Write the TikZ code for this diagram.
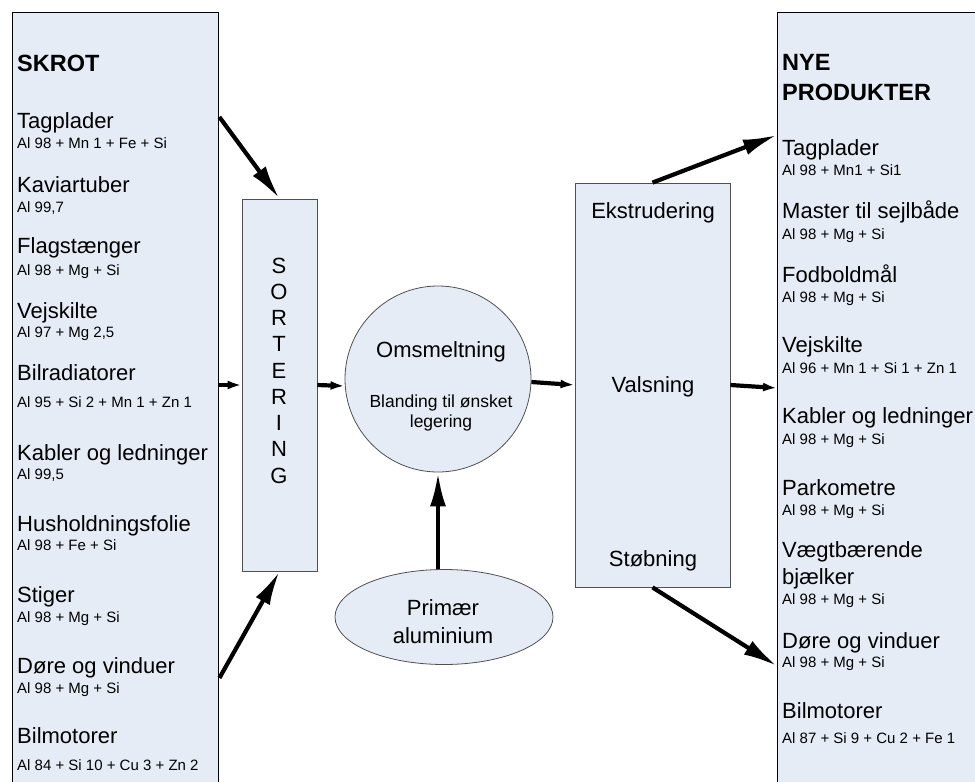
\documentclass[tikz,border=0pt]{standalone}
\usepackage{fontspec}
\setmainfont{Liberation Sans}
\usetikzlibrary{arrows.meta,shapes.geometric}
\definecolor{fyld}{RGB}{230,236,246}
\definecolor{kant}{RGB}{80,80,80}
\tikzset{
  yderkasse/.style={draw=black,line width=1.4pt,fill=fyld,anchor=north west,minimum width=206pt,minimum height=800pt},
  kasse/.style={draw=kant,line width=0.8pt,fill=fyld},
  emne/.style={inner sep=0pt,anchor=base west,font=\fontsize{22}{26}\selectfont},
  legering/.style={inner sep=0pt,anchor=base west,font=\fontsize{15}{18}\selectfont},
  titel/.style={inner sep=0pt,anchor=base west,font=\fontsize{23.5}{28}\selectfont\bfseries},
  midt/.style={inner sep=0pt,anchor=base,font=\fontsize{22}{26}\selectfont},
  pil/.style={line width=4.2pt,-{Latex[length=34pt,width=16pt]}},
  kortpil/.style={line width=4.2pt,-{Latex[length=14pt,width=9pt]}}
}
\begin{document}
\begin{tikzpicture}[x=1pt,y=-1pt]
\useasboundingbox (0,0) rectangle (975,782);
\clip (0,0) rectangle (975,782);
% kasser
\node[yderkasse] (skrot) at (12,12) {};
\node[yderkasse,minimum width=220pt] (nye) at (777,12) {};
\node[kasse,minimum width=75pt,minimum height=372pt] (sort) at (279.5,385) {};
\node[kasse,circle,minimum size=186pt] (smelt) at (438,379) {};
\node[kasse,minimum width=155pt,minimum height=404pt] (proces) at (652.5,385) {};
\node[kasse,ellipse,minimum width=218pt,minimum height=95pt] (prim) at (444,617) {};
% skrot
\node[titel] (skrothead) at (17,71) {SKROT};
\node[emne] (s1) at (17,128) {Tagplader};
\node[legering] (a1) at (17,148) {Al 98 + Mn 1 + Fe + Si};
\node[emne] (s2) at (17,192) {Kaviartuber};
\node[legering] (a2) at (17,212) {Al 99,7};
\node[emne] (s3) at (17,253) {Flagstænger};
\node[legering] (a3) at (17,275) {Al 98 + Mg + Si};
\node[emne] (s4) at (17,318) {Vejskilte};
\node[legering] (a4) at (17,337) {Al 97 + Mg 2,5};
\node[emne] (s5) at (17,380) {Bilradiatorer};
\node[legering] (a5) at (17,407) {Al 95 + Si 2 + Mn 1 + Zn 1};
\node[emne] (s6) at (17,460) {Kabler og ledninger};
\node[legering] (a6) at (17,479) {Al 99,5};
\node[emne] (s7) at (17,531) {Husholdningsfolie};
\node[legering] (a7) at (17,550) {Al 98 + Fe + Si};
\node[emne] (s8) at (17,602) {Stiger};
\node[legering] (a8) at (17,622) {Al 98 + Mg + Si};
\node[emne] (s9) at (17,673) {Døre og vinduer};
\node[legering] (a9) at (17,693) {Al 98 + Mg + Si};
\node[emne] (s10) at (17,743) {Bilmotorer};
\node[legering] (a10) at (17,770) {Al 84 + Si 10 + Cu 3 + Zn 2};
% nye produkter
\node[titel] (nyehead) at (782,70) {NYE};
\node[titel] (nyehead2) at (782,100) {PRODUKTER};
\node[emne] (n1) at (782,155) {Tagplader};
\node[legering] (b1) at (782,175) {Al 98 + Mn1 + Si1};
\node[emne] (n2) at (782,218) {Master til sejlbåde};
\node[legering] (b2) at (782,239) {Al 98 + Mg + Si};
\node[emne] (n3) at (782,282) {Fodboldmål};
\node[legering] (b3) at (782,302) {Al 98 + Mg + Si};
\node[emne] (n4) at (782,352) {Vejskilte};
\node[legering] (b4) at (782,373) {Al 96 + Mn 1 + Si 1 + Zn 1};
\node[emne] (n5) at (782,423) {Kabler og ledninger};
\node[legering] (b5) at (782,444) {Al 98 + Mg + Si};
\node[emne] (n6) at (782,495) {Parkometre};
\node[legering] (b6) at (782,515) {Al 98 + Mg + Si};
\node[emne] (n7) at (782,557) {Vægtbærende};
\node[emne] (n7b) at (782,584) {bjælker};
\node[legering] (b7) at (782,604) {Al 98 + Mg + Si};
\node[emne] (n8) at (782,648) {Døre og vinduer};
\node[legering] (b8) at (782,667) {Al 98 + Mg + Si};
\node[emne] (n9) at (782,718) {Bilmotorer};
\node[legering] (b9) at (782,743) {Al 87 + Si 9 + Cu 2 + Fe 1};
% sortering
\node[midt] (l1) at (279,273) {S};
\node[midt] (l2) at (279,299.25) {O};
\node[midt] (l3) at (279,325.5) {R};
\node[midt] (l4) at (279,351.75) {T};
\node[midt] (l5) at (279,378) {E};
\node[midt] (l6) at (279,404.25) {R};
\node[midt] (l7) at (279,430.5) {I};
\node[midt] (l8) at (279,456.75) {N};
\node[midt] (l9) at (279,483) {G};
% omsmeltning
\node[midt] (omsm) at (441,357) {Omsmeltning};
\node[midt,font=\fontsize{17.5}{21}\selectfont] (bland) at (441,407) {Blanding til ønsket};
\node[midt,font=\fontsize{17.5}{21}\selectfont] (bland2) at (441,427) {legering};
% proces
\node[midt] (ekst) at (653,218) {Ekstrudering};
\node[midt] (vals) at (653,392) {Valsning};
\node[midt] (stob) at (653,566) {Støbning};
% primaer
\node[midt] (primtxt) at (443,615) {Primær};
\node[midt] (primtxt2) at (443,643) {aluminium};
% pile
\draw[pil] (skrot.east |- 0,117) -- (sort.north);
\draw[pil] (skrot.east |- 0,678) -- (sort.south);
\draw[kortpil] (skrot.east |- sort.west) -- (sort.west);
\draw[kortpil] (sort.east) -- (smelt.west |- 0,386);
\draw[kortpil] (smelt.east |- 0,382) -- (proces.west);
\draw[kortpil] (proces.east) -- (nye.west |- 0,388);
\draw[pil] (proces.north) -- (nye.west |- 0,135);
\draw[pil] (proces.south) -- (nye.west |- 0,666);
\draw[pil] (prim.north -| smelt.south) -- (smelt.south);
\end{tikzpicture}
\end{document}
